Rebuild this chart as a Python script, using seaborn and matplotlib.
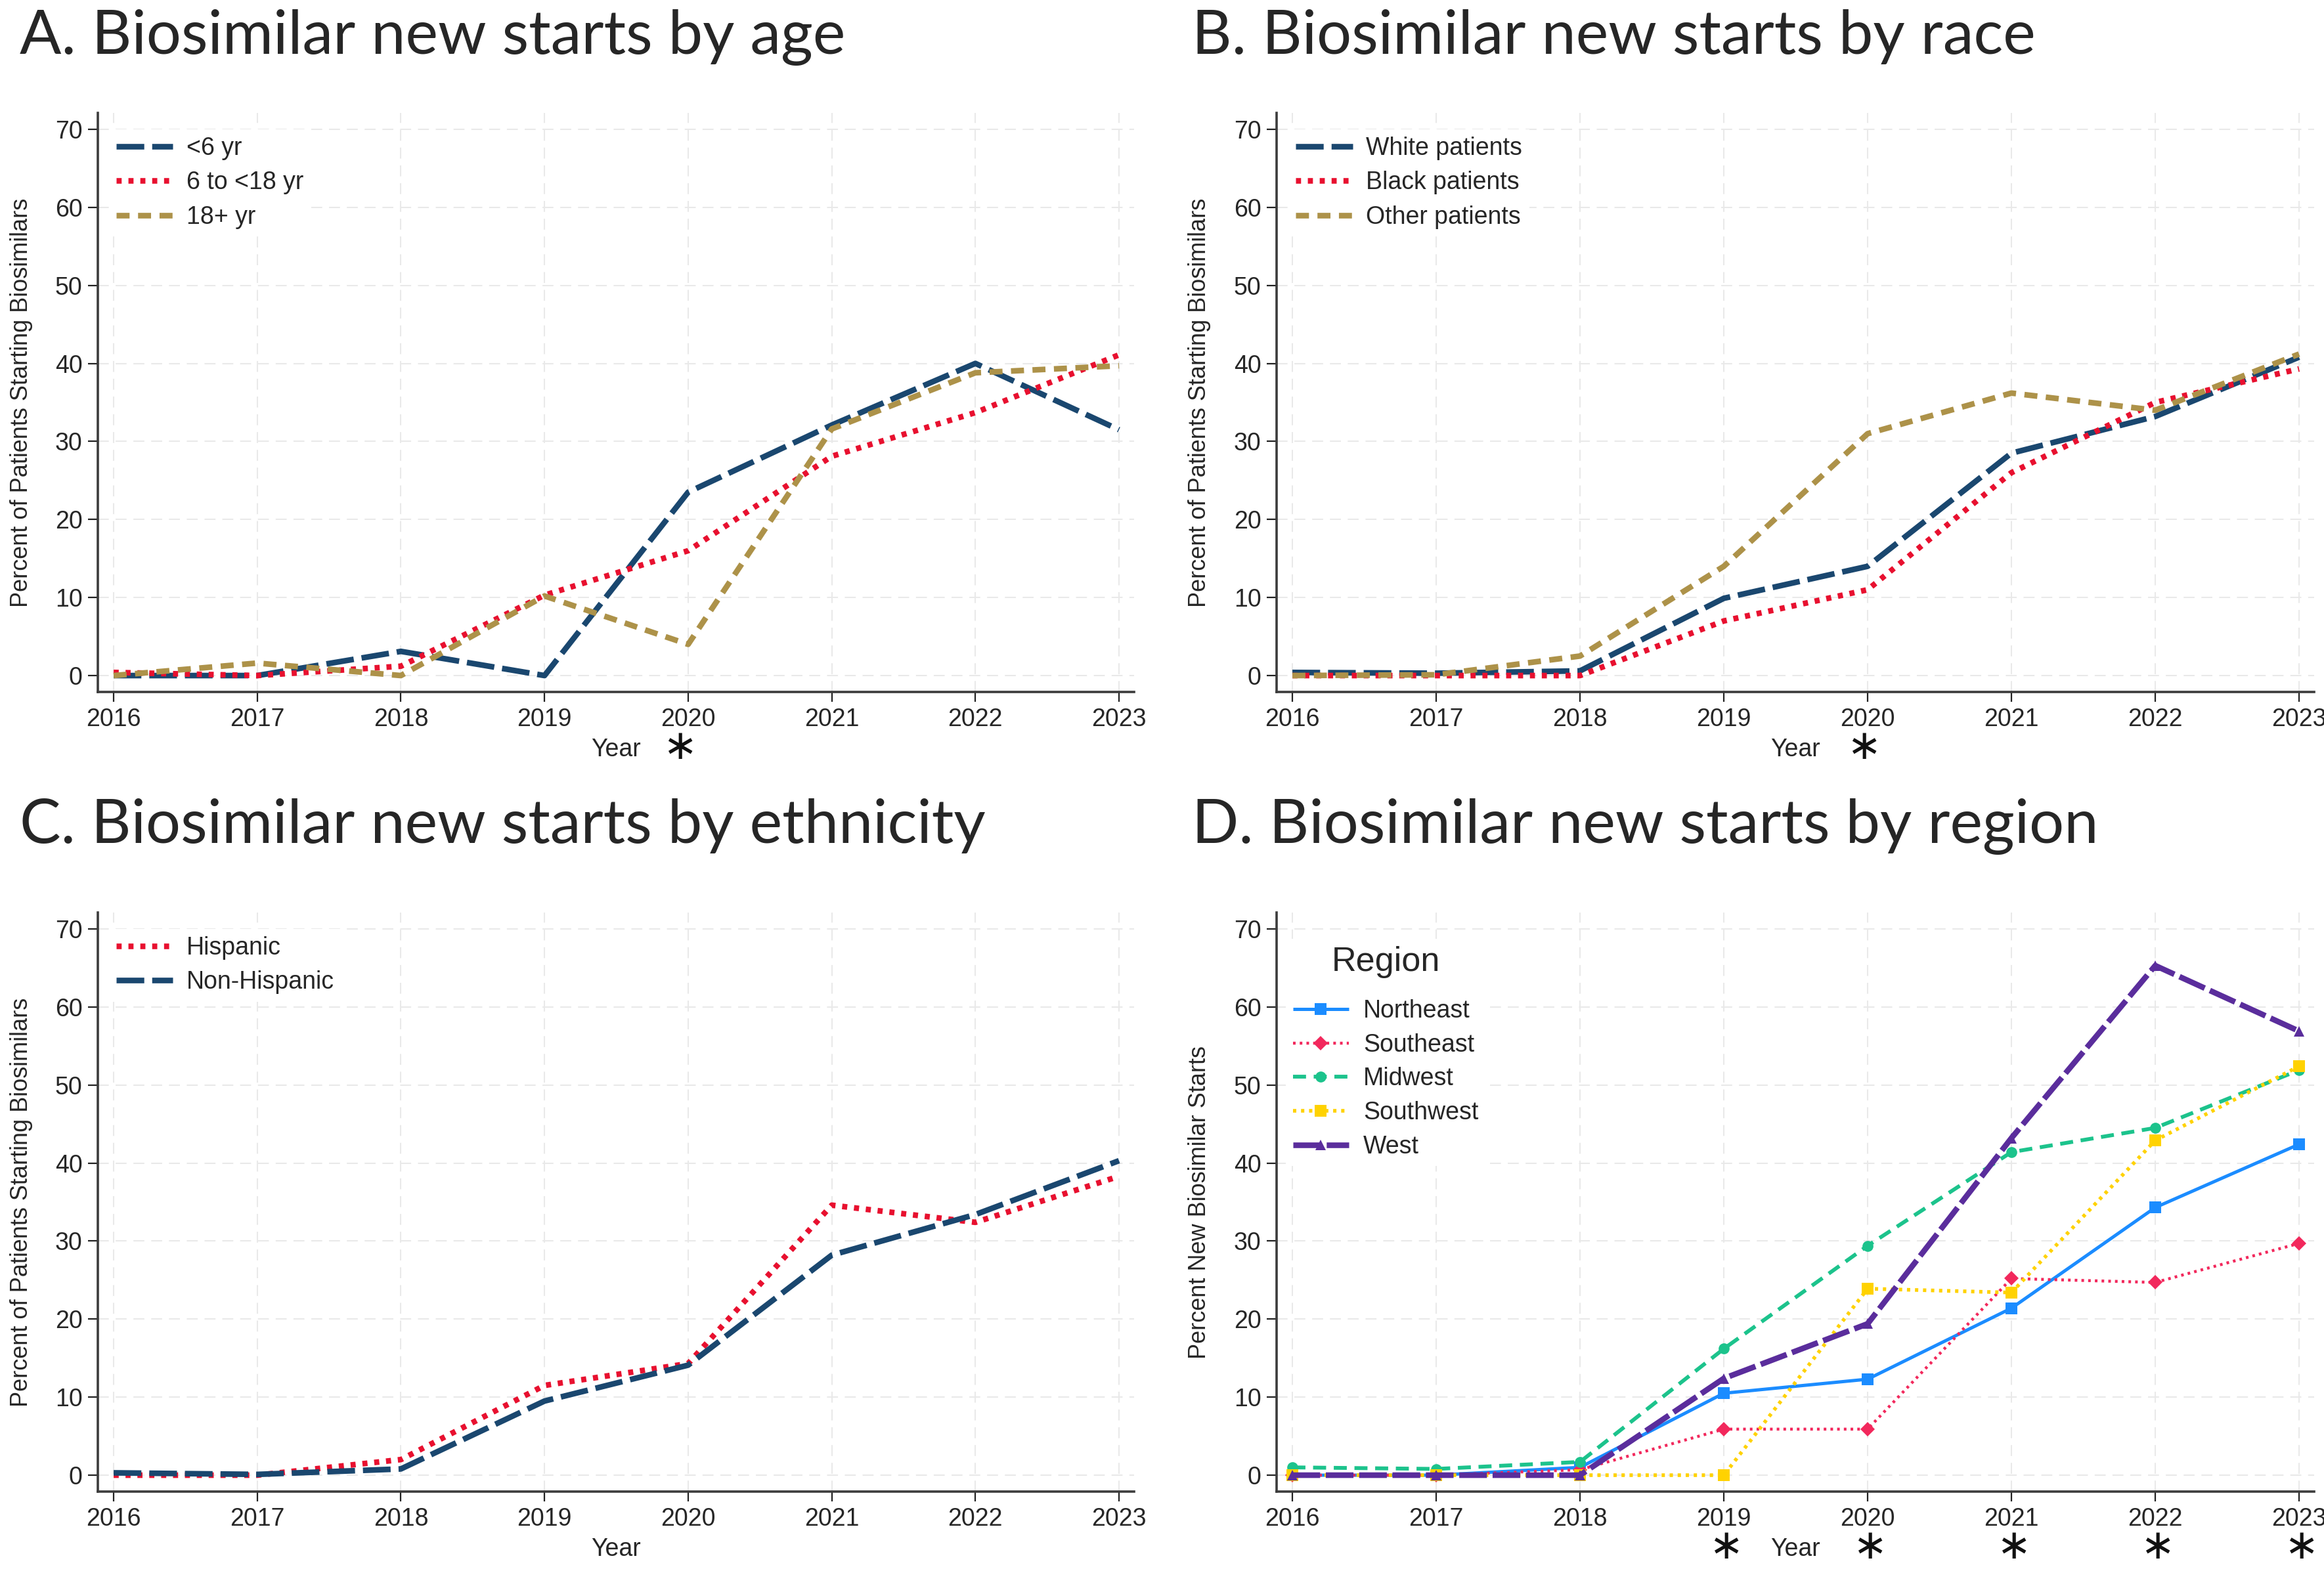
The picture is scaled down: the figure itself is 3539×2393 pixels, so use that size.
import matplotlib
matplotlib.use("Agg")
import matplotlib.pyplot as plt
import matplotlib.transforms as mtransforms
import seaborn as sns

# values (percent)
years = [2016, 2017, 2018, 2019, 2020, 2021, 2022, 2023]

age_lt6 = [0, 0, 3.1, 0, 23.5, 32.1, 40.0, 31.5]
age_6to18 = [0.4, 0, 1.2, 10.3, 16.0, 28.1, 33.7, 41.1]
age_18plus = [0, 1.6, 0, 10.2, 4.0, 31.6, 38.8, 39.7]

race_white = [0.4, 0.3, 0.6, 9.9, 14.0, 28.5, 33.2, 40.8]
race_black = [0, 0, 0, 7.0, 11.0, 26.0, 35.0, 39.3]
race_other = [0, 0.1, 2.5, 14.0, 31.0, 36.2, 34.0, 41.2]

eth_hispanic = [0, 0, 2.0, 11.5, 14.3, 34.6, 32.4, 38.3]
eth_nonhispanic = [0.3, 0.1, 0.8, 9.5, 14.1, 28.2, 33.4, 40.3]

reg_northeast = [0, 0, 1.0, 10.5, 12.3, 21.4, 34.3, 42.4]
reg_southeast = [0, 0, 0.7, 5.9, 5.9, 25.2, 24.7, 29.7]
reg_midwest = [1.0, 0.8, 1.7, 16.2, 29.4, 41.4, 44.5, 51.9]
reg_southwest = [0, 0, 0, 0, 23.9, 23.4, 42.9, 52.4]
reg_west = [0, 0, 0, 12.4, 19.4, 43.2, 65.3, 56.9]

yticks = [0, 10, 20, 30, 40, 50, 60, 70]

titles = ["A. Biosimilar new starts by age", "B. Biosimilar new starts by race",
          "C. Biosimilar new starts by ethnicity", "D. Biosimilar new starts by region"]

NAVY = "#1a476f"
RED = "#e8102f"
GOLD = "#ad9249"

sns.set_theme(style="white")
plt.rcParams["font.family"] = ["Liberation Sans", "DejaVu Sans"]

W, H = 3539, 2393
fig = plt.figure(figsize=(W / 100, H / 100), dpi=100)


def px_axes(left, top, right, bottom):
    return fig.add_axes([left / W, 1 - bottom / H, (right - left) / W, (bottom - top) / H])


def style_axes(ax, ylabel):
    ax.set_xlim(2015.89, 2023.105)
    ax.set_ylim(-2.1, 72.1)
    ax.set_xticks(years)
    ax.set_yticks(yticks)
    ax.grid(True, color="#e9e9e9", lw=1.5, ls=(0, (8, 5)))
    ax.set_axisbelow(True)
    for s in ["top", "right"]:
        ax.spines[s].set_visible(False)
    for s in ["left", "bottom"]:
        ax.spines[s].set_color("#3c3c3c")
        ax.spines[s].set_linewidth(2.6)
    ax.tick_params(axis="both", direction="out", length=11, width=1.6, color="#222222",
                   labelsize=27, pad=6, left=True, bottom=True)
    ax.set_ylabel(ylabel, fontsize=26)
    ax.yaxis.set_label_coords(-0.063, 0.5)
    ax.set_xlabel("Year", fontsize=27)
    ax.xaxis.set_label_coords(0.5, -0.079)


def add_star(ax, x, y=-0.0975):
    # significance mark under the x axis (mathtext keeps the box tight to the glyph)
    trans = mtransforms.blended_transform_factory(ax.transData, ax.transAxes)
    ax.text(x, y, r"$\ast$", transform=trans, fontsize=45, ha="center", va="center",
            color="#111111")


def plot_series(ax, y, color, lw, dashes, label, marker=None, ms=0):
    sns.lineplot(x=years, y=y, ax=ax, color=color, lw=lw, linestyle=(0, dashes),
                 marker=marker, markersize=ms, markeredgewidth=0, label=label,
                 errorbar=None)


def make_legend(ax, **kw):
    leg = ax.legend(loc="upper left", borderaxespad=0, fancybox=False, frameon=True,
                    facecolor="white", edgecolor="none", framealpha=1, **kw)
    return leg


LW = 6.2
LONG = (4.9, 1.4)
SHORT = (2.3, 1.5)
DOT = (0.9, 1.2)

leg_kw = dict(fontsize=27, handlelength=2.3, handletextpad=0.55, labelspacing=0.44,
              borderpad=0.3)

# A: age
axA = px_axes(149, 172, 1727, 1054)
plot_series(axA, age_lt6, NAVY, LW, LONG, "<6 yr")
plot_series(axA, age_6to18, RED, LW, DOT, "6 to <18 yr")
plot_series(axA, age_18plus, GOLD, LW, SHORT, "18+ yr")
style_axes(axA, "Percent of Patients Starting Biosimilars")
make_legend(axA, bbox_to_anchor=(0.0105, 0.972), **leg_kw)
add_star(axA, 2019.93)

# B: race
axB = px_axes(1944, 172, 3524, 1054)
plot_series(axB, race_white, NAVY, LW, LONG, "White patients")
plot_series(axB, race_black, RED, LW, DOT, "Black patients")
plot_series(axB, race_other, GOLD, LW, SHORT, "Other patients")
style_axes(axB, "Percent of Patients Starting Biosimilars")
make_legend(axB, bbox_to_anchor=(0.0115, 0.972), **leg_kw)
add_star(axB, 2019.96)

# C: ethnicity
axC = px_axes(149, 1390, 1727, 2272)
plot_series(axC, eth_hispanic, RED, LW, DOT, "Hispanic")
plot_series(axC, eth_nonhispanic, NAVY, LW, LONG, "Non-Hispanic")
style_axes(axC, "Percent of Patients Starting Biosimilars")
make_legend(axC, bbox_to_anchor=(0.0105, 0.972), **leg_kw)

# D: region
axD = px_axes(1944, 1390, 3524, 2272)
plot_series(axD, reg_northeast, "#1b8cff", 3.6, (1, 0), "Northeast", "s", 13)
plot_series(axD, reg_southeast, "#f2285c", 3.2, (0.9, 1.4), "Southeast", "D", 11)
plot_series(axD, reg_midwest, "#1cc38c", 4.2, (3.4, 2.0), "Midwest", "o", 12)
plot_series(axD, reg_southwest, "#ffd200", 4.0, (0.9, 1.3), "Southwest", "s", 13)
plot_series(axD, reg_west, "#5a2d9c", LW, (4.9, 1.0), "West", "^", 12)
style_axes(axD, "Percent New Biosimilar Starts")
legD = make_legend(axD, bbox_to_anchor=(0.0089, 0.955), fontsize=27, handlelength=2.25,
                   handletextpad=0.6, labelspacing=0.42, borderpad=0.3,
                   title="Region", title_fontsize=37.5)
legD._legend_box.sep = 23
for yr in [2019, 2020, 2021, 2022, 2023]:
    add_star(axD, yr)

# panel titles
for (x, y), t in zip([(30, 82), (1815, 82), (30, 1284), (1815, 1284)], titles):
    fig.text(x / W, 1 - y / H, t, fontsize=67.5, family=["Lato", "DejaVu Sans"],
             ha="left", va="baseline")

fig.savefig("out.png", dpi=100, facecolor="white")
